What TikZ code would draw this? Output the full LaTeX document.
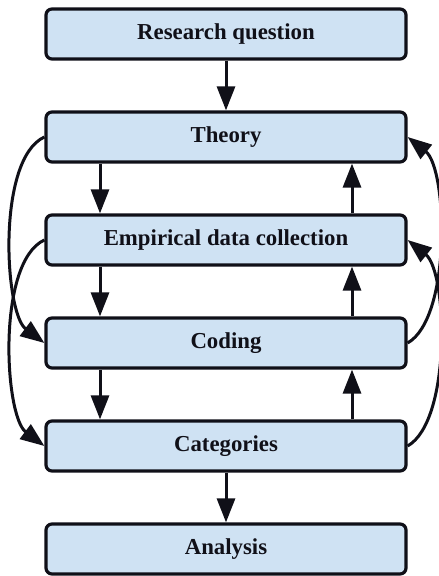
\documentclass[tikz,border=0pt]{standalone}
\usepackage{fontspec}
\setmainfont{Liberation Serif}
\usepackage{xcolor}
\usepackage{tikz}
\usetikzlibrary{calc,arrows.meta}
\definecolor{boxfill}{HTML}{CFE2F3}
\definecolor{ink}{HTML}{101018}
\tikzset{
  stage/.style = {draw=ink, fill=boxfill, line width=1.6pt, rounded corners=3pt,
                  minimum width=180pt, minimum height=25pt, inner sep=0pt,
                  font=\fontsize{11.4}{13}\selectfont\bfseries\color{ink}},
  flow/.style  = {-{Triangle[length=12pt,width=9pt]}, draw=ink, line width=1.5pt},
}
\begin{document}
\begin{tikzpicture}[x=0.5pt,y=0.5pt]
\path[use as bounding box] (0,0) rectangle (438,576);

% ---- stages -------------------------------------------------------------
\node[stage] (rq)       at (226,542) {Research question};
\node[stage] (theory)   at (226,439) {Theory};
\node[stage] (empir)    at (226,336) {Empirical data collection};
\node[stage] (coding)   at (226,233) {Coding};
\node[stage] (categ)    at (226,130) {Categories};
\node[stage] (analysis) at (226,27)  {Analysis};

% columns of the straight arrows
\coordinate (dcol) at (100,0);
\coordinate (ucol) at (352,0);

% ---- straight arrows ----------------------------------------------------
\draw[flow] (rq) -- (theory);
\draw[flow] (categ) -- (analysis);
\foreach \a/\b in {theory/empir, empir/coding, coding/categ}
  \draw[flow] (\a.south -| dcol) -- (\b.north -| dcol);
\foreach \a/\b in {categ/coding, coding/empir, empir/theory}
  \draw[flow] (\a.north -| ucol) -- (\b.south -| ucol);

% ---- loops skipping one stage -------------------------------------------
\foreach \a/\b in {theory/coding, empir/categ}
  \draw[flow] (\a.west) .. controls +(-48,-22) and +(-40,30) .. (\b.west);
\foreach \a/\b in {coding/theory, categ/empir}
  \draw[flow] (\a.east) .. controls +(44,25) and +(40,-32) .. (\b.east);

\end{tikzpicture}
\end{document}
